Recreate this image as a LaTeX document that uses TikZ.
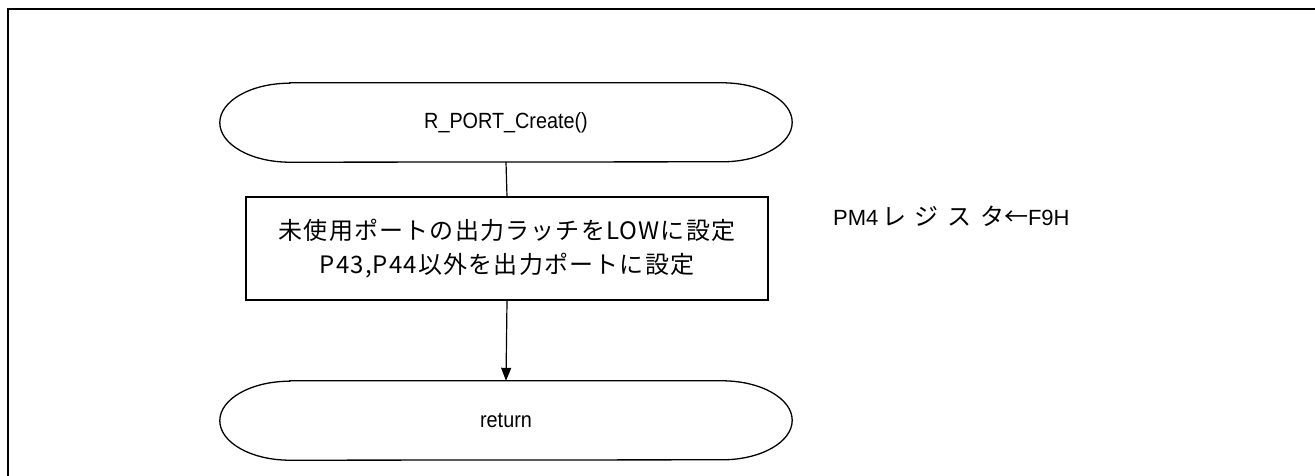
\documentclass[tikz,border=0pt]{standalone}
\usepackage{fontspec}
\setmainfont[FakeStretch=0.9]{Liberation Sans}
\newfontfamily\notelatin{Liberation Sans}
\newfontfamily\cjkfont[LetterSpace=5]{Noto Sans CJK JP}
\newfontfamily\cjkwide[LetterSpace=36]{Noto Sans CJK JP}
\newcommand\J[1]{{\fontsize{24}{34}\cjkfont #1}}
\newcommand\JW[1]{{\fontsize{24}{34}\cjkwide #1}}
\usetikzlibrary{arrows.meta}
\tikzset{
  termnode/.style={minimum width=572pt, minimum height=79pt, inner sep=0pt},
  procnode/.style={draw, line width=1.2pt, minimum width=522pt, minimum height=103pt, inner sep=0pt, align=center},
  notenode/.style={anchor=west, inner sep=0pt, font=\fontsize{22}{30}\notelatin},
  outline/.style={line width=1.3pt},
  flow/.style={line width=1.2pt},
}
\newcommand\termshape[1]{%
  \draw[outline] ([xshift=70pt]#1.north west) -- ([xshift=-70pt]#1.north east)
    arc[start angle=90, end angle=-90, x radius=70pt, y radius=39.5pt]
    -- ([xshift=70pt]#1.south west)
    arc[start angle=270, end angle=90, x radius=70pt, y radius=39.5pt] -- cycle;}
\begin{document}
\begin{tikzpicture}[x=1pt, y=-1pt, font=\fontsize{22}{34}\selectfont]
\useasboundingbox (0,0) rectangle (1315,476);
\begin{scope}
  \clip (0,0) rectangle (1315,476);
  \draw[line width=2pt] (8,9) rectangle (1340,500);
\end{scope}
\node[termnode] (t1) at (506,122.5) {R\_PORT\_Create()};
\termshape{t1}
\node[procnode] (p1) at (507,248.5) {\J{未使用ポートの出力ラッチをLOWに設定}\\\J{P43,P44以外を出力ポートに設定}};
\node[termnode] (t2) at (506,420.5) {return};
\termshape{t2}
\node[notenode] (note) at (833,216) {PM4\,\JW{レジスタ}\J{←}F9H};
\draw[flow] (t1.south) -- (p1.north);
\draw[flow, -{Triangle[length=13pt, width=10pt]}] (p1.south) -- (t2.north);
\end{tikzpicture}
\end{document}
